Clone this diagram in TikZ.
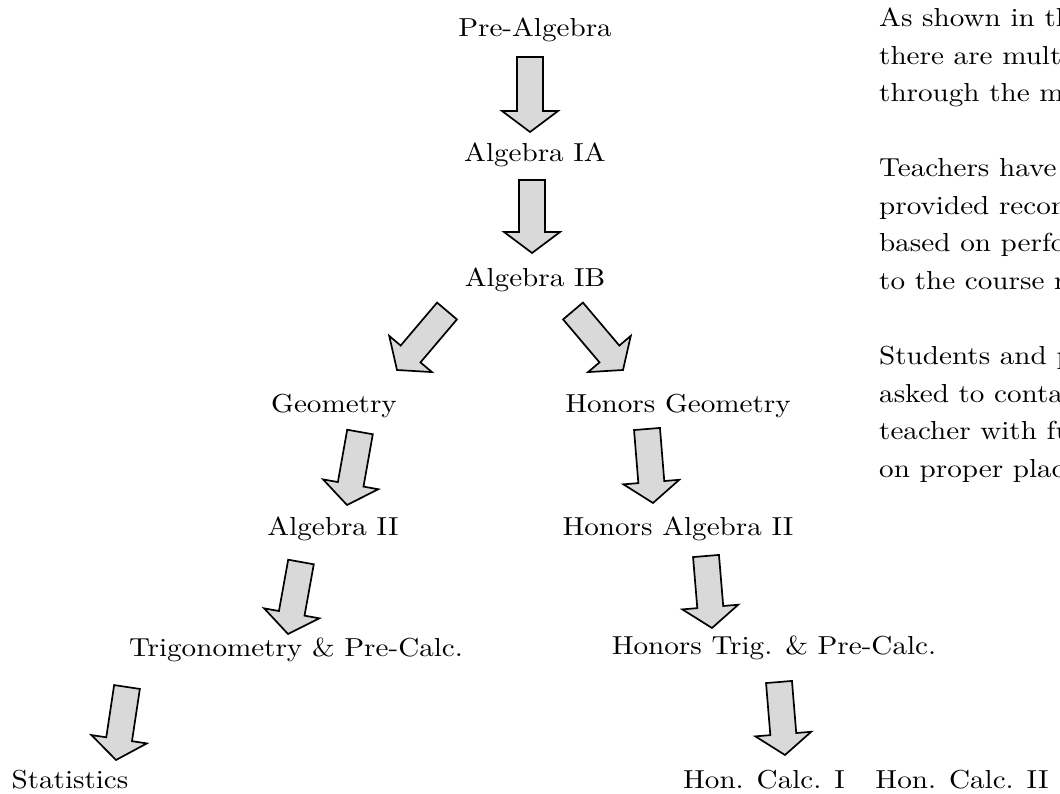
\documentclass[tikz,border=0pt]{standalone}
\usepackage{fontspec}
\setmainfont{lmroman10-regular}[Extension=.otf, FakeStretch=1.12]
\usetikzlibrary{calc}

\tikzset{
  course/.style={anchor=base, inner sep=0pt, font=\fontsize{26}{37.5}\selectfont},
  note/.style={anchor=base west, inner sep=0pt, font=\fontsize{26}{37.5}\selectfont},
  blockarr/.style={draw=black, fill=gray!30, line width=1.7pt, line join=miter}
}

% block arrow from tail (#1) to tip (#2)
\newcommand{\blockarrow}[2]{%
  \draw[blockarr] ($(#1)!13pt!90:(#2)$) -- ($(#2)!21pt!(#1)!13pt!90:(#2)$)
    -- ($(#2)!21pt!(#1)!28pt!90:(#2)$) -- (#2)
    -- ($(#2)!21pt!(#1)!28pt!-90:(#2)$) -- ($(#2)!21pt!(#1)!13pt!-90:(#2)$)
    -- ($(#1)!13pt!-90:(#2)$) -- cycle;}

\begin{document}
\begin{tikzpicture}[x=1pt,y=-1pt]
    \useasboundingbox (0,0) rectangle (1060,794);
    \clip (0,0) rectangle (1060,794);

    % Courses
    \node[course] (prealg) at (535,37) {Pre-Algebra};
    \node[course] (algIA) at (535,162) {Algebra IA};
    \node[course] (algIB) at (535,287) {Algebra IB};
    \node[course] (geom) at (334,412) {Geometry};
    \node[course] (hgeom) at (678,412) {Honors Geometry};
    \node[course] (algII) at (333,535) {Algebra II};
    \node[course] (halgII) at (678,535) {Honors Algebra II};
    \node[course] (trig) at (296,656) {Trigonometry \& Pre-Calc.};
    \node[course] (htrig) at (774,654) {Honors Trig. \& Pre-Calc.};
    \node[course] (stats) at (70,788) {Statistics};
    \node[course] (hcalcI) at (764,788) {Hon. Calc. I};
    \node[course] (hcalcII) at (962,788) {Hon. Calc. II};

    % Arrow ends
    \coordinate (a1s) at (530,57);   \coordinate (a1e) at (530,132);
    \coordinate (a2s) at (532,180);  \coordinate (a2e) at (532,253);
    \coordinate (a3s) at (447,311);  \coordinate (a3e) at (397,370);
    \coordinate (a4s) at (573,311);  \coordinate (a4e) at (623,370);
    \coordinate (a5s) at (360,432);  \coordinate (a5e) at (347,505);
    \coordinate (a6s) at (647,429);  \coordinate (a6e) at (653,503);
    \coordinate (a7s) at (301,562);  \coordinate (a7e) at (288,634);
    \coordinate (a8s) at (706,556);  \coordinate (a8e) at (712,628);
    \coordinate (a9s) at (127,687);  \coordinate (a9e) at (116,760);
    \coordinate (a10s) at (779,682); \coordinate (a10e) at (785,755);

    % Arrows
    \foreach \k in {1,...,10}
        \blockarrow{a\k s}{a\k e};

    % Side notes
    \foreach \yy/\txt in {27/As shown in th, 64.5/there are mult, 102/through the m,
        177/Teachers have, 214.5/provided recom, 252/based on perfo, 289.5/to the course r,
        364.5/Students and p, 402/asked to conta, 439.5/teacher with fu, 477/on proper plac}
        \node[note] at (879,\yy) {\txt};
\end{tikzpicture}
\end{document}
